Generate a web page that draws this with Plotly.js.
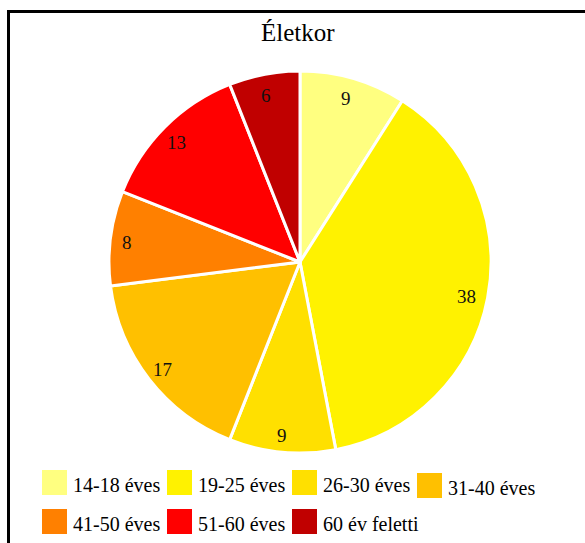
<!DOCTYPE html>
<html>
<head>
<meta charset="utf-8">
<script src="https://cdn.plot.ly/plotly-3.0.1.min.js"></script>
<style>
  html, body { margin: 0; padding: 0; background: #ffffff; }
  #chart { width: 585px; height: 543px; }
</style>
</head>
<body>
<div id="chart"></div>
<script>
// Age groups and respondent counts
const ageGroups = ['14-18 éves', '19-25 éves', '26-30 éves', '31-40 éves', '41-50 éves', '51-60 éves', '60 év feletti'];
const counts = [9, 38, 9, 17, 8, 13, 6];
const sliceColors = ['#FFFF80', '#FFF200', '#FFE000', '#FFC000', '#FF8000', '#FF0000', '#C00000'];
const chartTitle = 'Életkor';

// Page geometry (pixels)
const W = 585, H = 543;
const CX = 300, CY = 262, R = 191;     // pie centre and radius
const LABEL_R = 0.9;                    // data labels sit near the rim
const SERIF = '"Liberation Serif", "Times New Roman", serif';

const px2x = p => p / W;
const px2y = p => 1 - p / H;

// Value labels placed along each slice's mid-angle (clockwise from 12 o'clock)
const total = counts.reduce((a, b) => a + b, 0);
const annotations = [];
let cum = 0;
counts.forEach(v => {
  const mid = (cum + v / 2) / total * 2 * Math.PI;
  cum += v;
  const x = CX + LABEL_R * R * Math.sin(mid);
  const y = CY - LABEL_R * R * Math.cos(mid);
  annotations.push({
    xref: 'paper', yref: 'paper', x: px2x(x - 2), y: px2y(y + 2),
    xanchor: 'center', yanchor: 'middle', showarrow: false,
    text: String(v), font: { family: SERIF, size: 19, color: '#111111' }
  });
});

// Legend: square swatch + label, 4 items in first row, 3 in second
const shapes = [];
const LEG_X0 = 42, LEG_DX = 125, LEG_Y0 = 482.5, LEG_DY = 39, SW = 25;
ageGroups.forEach((name, i) => {
  const col = i < 4 ? i : i - 4;
  const row = i < 4 ? 0 : 1;
  const x = LEG_X0 + col * LEG_DX;
  const yc = LEG_Y0 + row * LEG_DY + (i === 3 ? 3 : 0);
  shapes.push({
    type: 'rect', xref: 'paper', yref: 'paper',
    x0: px2x(x), x1: px2x(x + SW), y0: px2y(yc - SW / 2), y1: px2y(yc + SW / 2),
    fillcolor: sliceColors[i], line: { width: 0 }
  });
  annotations.push({
    xref: 'paper', yref: 'paper', x: px2x(x + SW + 4), y: px2y(yc + 2),
    xanchor: 'left', yanchor: 'middle', showarrow: false,
    text: name, font: { family: SERIF, size: 20, color: '#000000' }
  });
});

// Frame around the chart area
shapes.push({
  type: 'rect', xref: 'paper', yref: 'paper',
  x0: px2x(8.5), y0: px2y(11.5), x1: 1.05, y1: -0.05,
  line: { color: '#000000', width: 3 }, fillcolor: 'rgba(0,0,0,0)', layer: 'above'
});

annotations.push({
  xref: 'paper', yref: 'paper', x: px2x(CX - 2), y: px2y(33),
  xanchor: 'center', yanchor: 'middle', showarrow: false,
  text: chartTitle, font: { family: SERIF, size: 25, color: '#000000' }
});

const trace = {
  type: 'pie',
  labels: ageGroups,
  values: counts,
  sort: false,
  direction: 'clockwise',
  rotation: 0,
  textinfo: 'none',
  hoverinfo: 'label+value',
  marker: { colors: sliceColors, line: { color: '#ffffff', width: 3 } },
  domain: { x: [px2x(CX - R), px2x(CX + R)], y: [px2y(CY + R), px2y(CY - R)] },
  showlegend: false
};

const layout = {
  width: W, height: H,
  margin: { l: 0, r: 0, t: 0, b: 0 },
  paper_bgcolor: '#ffffff',
  showlegend: false,
  shapes: shapes,
  annotations: annotations
};

Plotly.newPlot('chart', [trace], layout, { displayModeBar: false, staticPlot: true });
</script>
</body>
</html>
